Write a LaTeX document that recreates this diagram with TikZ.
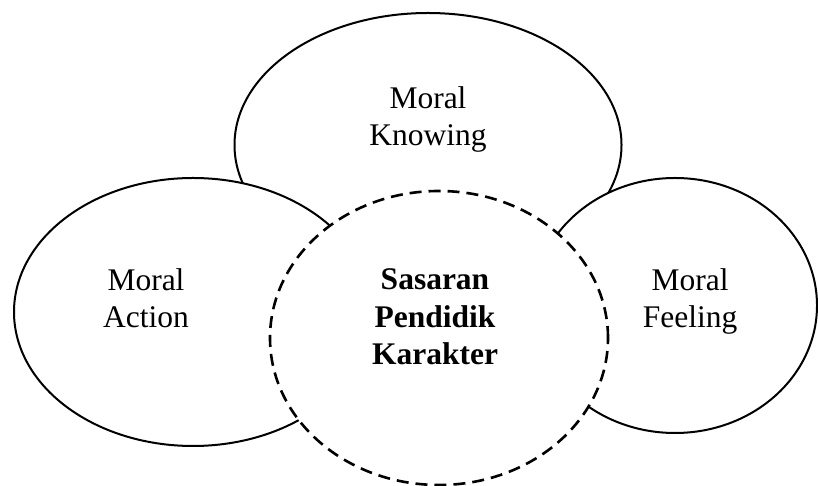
\documentclass[tikz,border=0pt]{standalone}
\usepackage{fontspec}
\setmainfont{Liberation Serif}
\usetikzlibrary{shapes.geometric}

\begin{document}
\begin{tikzpicture}[x=0.5pt, y=0.5pt, line width=1pt,
	bulat/.style={ellipse, draw, fill=white, inner sep=0pt},
	teks/.style={align=center, font=\fontsize{15.75}{18.5}\selectfont}]
	\useasboundingbox (0,0) rectangle (818,486);
	
	% === 三个椭圆 ===
	\node[bulat, minimum width=193.5pt, minimum height=132pt] (knowing) at (428,341) {};
	\node[bulat, minimum width=179pt, minimum height=134pt] (action) at (193,174) {};
	\node[bulat, minimum width=142pt, minimum height=127.5pt] (feeling) at (675,180.5) {};
	
	% === 中间虚线圆 ===
	\node[bulat, line width=1.3pt, dash pattern=on 6pt off 3.5pt, minimum width=169pt, minimum height=147pt] (sasaran) at (439,148) {};
	
	% 文字
	\node[teks] (tknowing) at (428,367) {Moral\\Knowing};
	\node[teks] (taction) at (146,188) {Moral\\Action};
	\node[teks] (tfeeling) at (690,185) {Moral\\Feeling};
	\node[teks, font=\fontsize{15.75}{18.75}\selectfont\bfseries] (tsasaran) at (435,169) {Sasaran\\Pendidik\\Karakter};
\end{tikzpicture}
\end{document}
